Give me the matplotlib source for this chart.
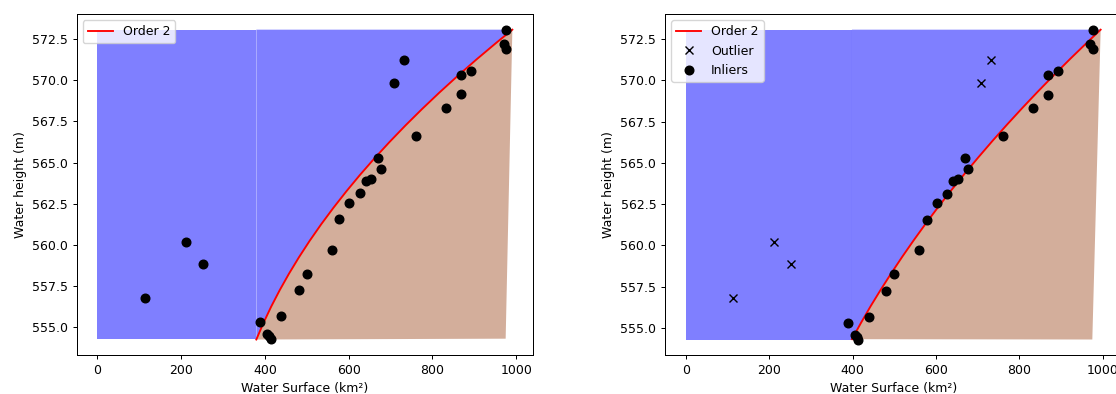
import matplotlib
matplotlib.use("Agg")
import matplotlib.pyplot as plt

# ---- data ----
surface = [113.9, 212.7, 252.8, 388.9, 405.0, 410.0, 414.0, 439.2, 480.8, 500.5,
           560.0, 577.9, 601.7, 626.4, 640.9, 653.7, 669.8, 677.5, 708.9, 731.1,
           760.0, 832.5, 868.2, 868.2, 892.0, 977.0, 970.4, 976.4]
height = [556.8, 560.2, 558.86, 555.3, 554.6, 554.45, 554.3, 555.67, 557.24, 558.25,
          559.7, 561.54, 562.55, 563.12, 563.89, 564.0, 565.3, 564.61, 569.86, 571.21,
          566.63, 568.31, 570.31, 569.14, 570.55, 573.07, 572.23, 571.92]
outlier_flag = [1, 1, 1, 0, 0, 0, 0, 0, 0, 0,
                0, 0, 0, 0, 0, 0, 0, 0, 1, 1,
                0, 0, 0, 0, 0, 0, 0, 0]

# fitted "Order 2" curves
curve1_x = [379.5, 396.4, 415.0, 435.4, 457.5, 481.4, 507.0, 534.4, 563.6, 594.5,
            627.1, 661.5, 697.7, 735.6, 775.3, 816.7, 859.9, 904.8, 951.5, 991.0]
curve1_y = [554.25, 555.25, 556.25, 557.25, 558.25, 559.25, 560.25, 561.25, 562.25, 563.25,
            564.25, 565.25, 566.25, 567.25, 568.25, 569.25, 570.25, 571.25, 572.25, 573.07]
curve2_x = [398.6, 420.5, 443.4, 467.7, 493.0, 519.4, 546.9, 575.5, 605.2, 636.1,
            668.0, 701.1, 735.2, 770.5, 806.9, 844.4, 883.0, 922.7, 963.6, 995.0]
curve2_y = [554.32, 555.32, 556.32, 557.32, 558.32, 559.32, 560.32, 561.32, 562.32, 563.32,
            564.32, 565.32, 566.32, 567.32, 568.32, 569.32, 570.32, 571.32, 572.32, 573.07]

fill_xmin = 0.0
fill_xmax = 975.0
fill_ymin = 554.3
fill_ymax = 573.07

BROWN = "#d3ae9b"

S = 0.9  # reference looks rendered ~0.9 scale
plt.rcParams.update({
    "font.size": 10 * S,
    "lines.linewidth": 1.5 * S,
    "lines.markersize": 6.2,
    "axes.linewidth": 0.8 * S,
    "xtick.major.size": 3.5 * S,
    "ytick.major.size": 3.5 * S,
    "xtick.major.width": 0.8 * S,
    "ytick.major.width": 0.8 * S,
    "xtick.major.pad": 3.5 * S,
    "ytick.major.pad": 3.5 * S,
    "axes.labelpad": 4.0 * S,
})


def draw_fills(ax, cx, cy):
    x0 = cx[0]
    ax.fill([fill_xmin, x0, x0, fill_xmin], [fill_ymin, fill_ymin, fill_ymax, fill_ymax],
            color="blue", alpha=0.5, lw=0)
    ax.fill([x0] + cx + [x0], [fill_ymin] + cy + [fill_ymax],
            color="blue", alpha=0.5, lw=0)
    ax.fill(cx + [fill_xmax], cy + [fill_ymin], color=BROWN, lw=0)


fig = plt.figure(figsize=(11.16, 3.94), dpi=100)
ax1 = fig.add_axes([76.7 / 1116, 0.099, 456.4 / 1116, 0.865])
ax2 = fig.add_axes([665.0 / 1116, 0.099, 456.4 / 1116, 0.865])

# left panel
draw_fills(ax1, curve1_x, curve1_y)
ax1.plot(curve1_x, curve1_y, color="red", label="Order 2")
ax1.plot(surface, height, "ko")
ax1.set_xlabel("Water Surface (km²)")
ax1.set_ylabel("Water height (m)")
ax1.legend(loc="upper left")

# right panel
draw_fills(ax2, curve2_x, curve2_y)
ax2.plot(curve2_x, curve2_y, color="red", label="Order 2")
ox = [s for s, f in zip(surface, outlier_flag) if f]
oy = [h for h, f in zip(height, outlier_flag) if f]
ix = [s for s, f in zip(surface, outlier_flag) if not f]
iy = [h for h, f in zip(height, outlier_flag) if not f]
ax2.plot(ox, oy, "kx", markersize=5.4, label="Outlier")
ax2.plot(ix, iy, "ko", label="Inliers")
ax2.set_xlabel("Water Surface (km²)")
ax2.set_ylabel("Water height (m)")
ax2.legend(loc="upper left")

for ax in (ax1, ax2):
    ax.set_yticks([555.0, 557.5, 560.0, 562.5, 565.0, 567.5, 570.0, 572.5])
    ax.set_xticks([0, 200, 400, 600, 800, 1000])

fig.savefig("out.png", dpi=100)
